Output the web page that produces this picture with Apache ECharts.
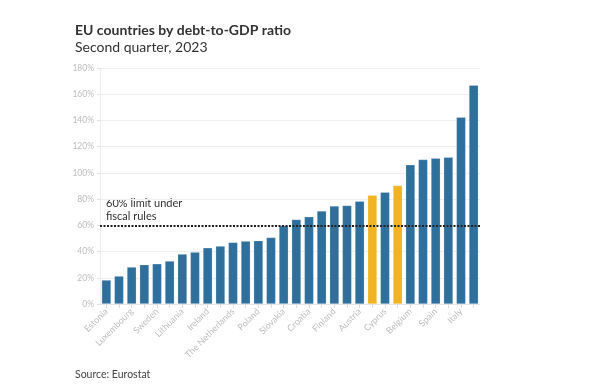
<!DOCTYPE html>
<html>
<head>
<meta charset="utf-8">
<script src="https://cdn.jsdelivr.net/npm/echarts@6/dist/echarts.min.js"></script>
<style>
html,body{margin:0;padding:0;background:#fff;}
#chart{width:600px;height:387px;}
</style>
</head>
<body>
<div id="chart"></div>
<script>
const categories = ["Estonia","Bulgaria","Luxembourg","Denmark","Sweden","Latvia","Lithuania","Czechia","Ireland","Romania","The Netherlands","Malta","Poland","Slovenia","Slovakia","Germany","Croatia","Hungary","Finland","Portugal","Austria","EU","Cyprus","Euro area","Belgium","France","Spain","Greece","Italy","Greece "];
const debtRatio = [18.3,21.3,28.2,30.0,30.7,32.8,38.1,39.6,42.9,44.2,47.0,48.0,48.3,50.8,59.7,64.5,66.5,70.9,74.7,75.2,78.5,83.0,85.3,90.4,106.2,110.2,111.2,112.0,142.5,166.9];
const highlighted = ["EU","Euro area"];
const limitValue = 60;
const yTicks = [0,20,40,60,80,100,120,140,160,180];

const BLUE = '#2f6f9c';
const YELLOW = '#f0b323';
const FONT = 'Lato';

const chart = echarts.init(document.getElementById('chart'), null, {renderer:'canvas'});
chart.setOption({
  animation:false,
  backgroundColor:'#fff',
  textStyle:{fontFamily:FONT},
  title:[
    {text:'EU countries by debt-to-GDP ratio', left:70, top:18,
     textStyle:{fontFamily:FONT, fontSize:14, fontWeight:'bold', color:'#333'}},
    {text:'Second quarter, 2023', left:70, top:35,
     textStyle:{fontFamily:FONT, fontSize:14, fontWeight:'normal', color:'#333'}},
    {text:'Source: Eurostat', left:70, top:364,
     textStyle:{fontFamily:FONT, fontSize:10.5, fontWeight:'normal', color:'#444'}}
  ],
  grid:{left:100, right:120, top:68, bottom:83, containLabel:false},
  xAxis:{
    type:'category', data:categories,
    axisLine:{show:true, lineStyle:{color:'#e6e6e6'}},
    axisTick:{show:true, alignWithLabel:true, interval:0, length:4, lineStyle:{color:'#dddddd'}},
    axisLabel:{interval:1, rotate:45, color:'#bdbdbd', fontSize:9, fontFamily:FONT, margin:6}
  },
  yAxis:{
    type:'value', min:yTicks[0], max:yTicks[yTicks.length-1], interval:20,
    axisLine:{show:true, lineStyle:{color:'#ececec'}},
    axisTick:{show:true, length:3, lineStyle:{color:'#e0e0e0'}},
    axisLabel:{formatter:v=>v+'%', color:'#bdbdbd', fontSize:8.5, fontFamily:FONT, margin:6},
    splitLine:{lineStyle:{color:'#efefef'}}
  },
  series:[{
    type:'bar',
    data:debtRatio.map((v,i)=>({value:v, itemStyle:{color: highlighted.includes(categories[i]) ? YELLOW : BLUE}})),
    barCategoryGap:'26%',
    itemStyle:{borderColor:'rgba(255,255,255,0.35)', borderWidth:0.6},
    markLine:{
      silent:true, symbol:'none',
      lineStyle:{color:'#222', type:[2,1.5], width:2},
      label:{show:false},
      data:[{yAxis:limitValue}]
    }
  }],
  graphic:[
    {type:'text', left:106, top:197, style:{text:'60% limit under\nfiscal rules', fill:'#333', font:'11px '+FONT, lineHeight:13}}
  ]
});
</script>
</body>
</html>
